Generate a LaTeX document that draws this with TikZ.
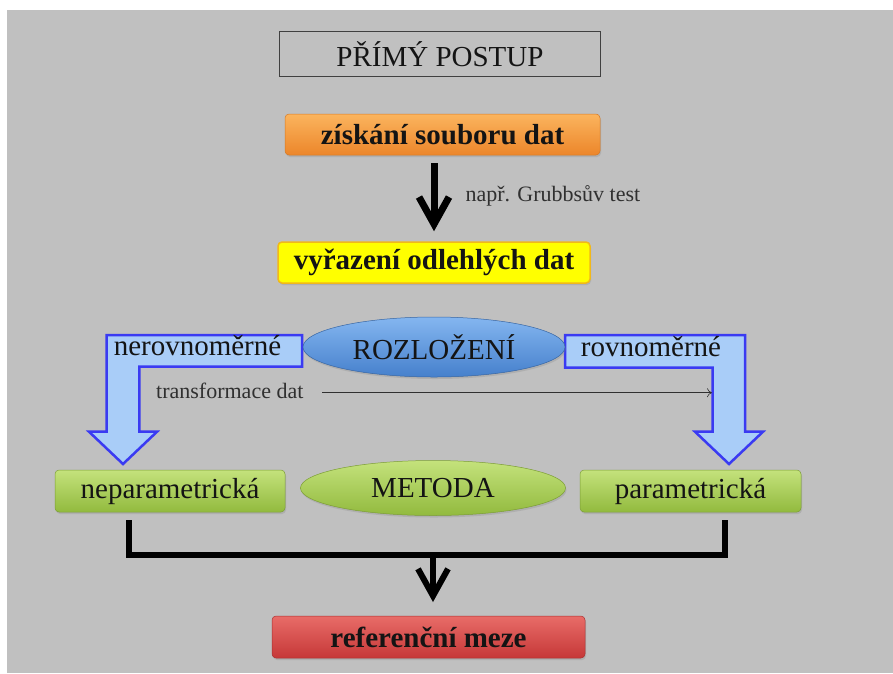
\documentclass[tikz,border=0pt]{standalone}
\usepackage{fontspec}
\setmainfont{Liberation Serif}
\usetikzlibrary{shapes.geometric,arrows.meta,shadows,calc}
\definecolor{bg}{HTML}{C0C0C0}
\definecolor{txt}{HTML}{141414}
\definecolor{smalltxt}{HTML}{303030}
\definecolor{orangeT}{HTML}{FBB45E}
\definecolor{orangeM}{HTML}{F7963A}
\definecolor{orangeB}{HTML}{EC862A}
\definecolor{yel}{HTML}{FFFF00}
\definecolor{yelB}{HTML}{F2B818}
\definecolor{blueT}{HTML}{84B6F0}
\definecolor{blueM}{HTML}{5C98DE}
\definecolor{blueB}{HTML}{4680CC}
\definecolor{greenT}{HTML}{C4E27C}
\definecolor{greenM}{HTML}{A6CE4E}
\definecolor{greenB}{HTML}{92BA3E}
\definecolor{redT}{HTML}{E86C68}
\definecolor{redM}{HTML}{D94646}
\definecolor{redB}{HTML}{C63838}
\definecolor{arrFill}{HTML}{A9CDF8}
\definecolor{arrLine}{HTML}{3A3AF2}
\begin{document}
\begin{tikzpicture}[x=1pt,y=-1pt,
  bigfont/.style={font=\fontsize{29}{34}\selectfont, text=txt},
  boldfont/.style={font=\fontsize{29}{34}\selectfont\bfseries, text=txt},
  smallfont/.style={font=\fontsize{22}{26}\selectfont, text=smalltxt},
  shad/.style={drop shadow={opacity=0.25, shadow xshift=1pt, shadow yshift=-2pt}},
  colbox/.style={rectangle, rounded corners=4pt, inner sep=0pt, shad},
  colell/.style={ellipse, inner sep=0pt, shad},
  orangefill/.style={top color=orangeT, middle color=orangeM, bottom color=orangeB, draw=orangeB!90!black, line width=0.5pt},
  bluefill/.style={top color=blueT, middle color=blueM, bottom color=blueB, draw=blueB!80!black, line width=0.5pt},
  greenfill/.style={top color=greenT, middle color=greenM, bottom color=greenB, draw=greenB!85!black, line width=0.5pt},
  redfill/.style={top color=redT, middle color=redM, bottom color=redB, draw=redB!85!black, line width=0.5pt},
  bigarrow/.style={line width=7pt, -{Straight Barb[length=27pt,width=30pt]}},
  bentarrow/.style={fill=arrFill, draw=arrLine, line width=2.5pt, line join=miter},
  thinarrow/.style={line width=0.6pt, draw=smalltxt, -{To[length=5pt,width=9pt]}},
  bracket/.style={line width=6pt, line join=miter}
]
\useasboundingbox (0,0) rectangle (893,673);
\fill[bg] (7,10) rectangle (893,673);

% title
\node[draw=black!75, line width=0.8pt, minimum width=321pt, minimum height=45pt, inner sep=0pt, bigfont] (title) at (440,54) {PŘÍMÝ POSTUP};

% top boxes
\node[colbox, orangefill, minimum width=315pt, minimum height=41pt, boldfont] (get) at (442.5,134.5) {získání souboru dat};
\node[colbox, fill=yel, draw=yelB, line width=1.5pt,
      minimum width=312pt, minimum height=41pt, boldfont] (yel) at (434,262.5) {vyřazení odlehlých dat};

\coordinate (a1s) at ($(get.south -| yel.north)+(0,8)$);
\coordinate (a1e) at ($(yel.north)+(0,-10)$);
\draw[bigarrow] (a1s) -- (a1e);
\node[smallfont, anchor=base west] (grubbs) at (462,201.5) {např. Grubbsův test};

% bent arrows
\draw[bentarrow] (106.7,335) -- (302,335) -- (302,366.7) -- (139.3,366.7) -- (139.3,431.7)
  -- (157,431.7) -- (123,464) -- (89,431.7) -- (106.7,431.7) -- cycle;
\draw[bentarrow] (565,335) -- (745,335) -- (745,431.7) -- (763,431.7) -- (729,464)
  -- (695,431.7) -- (712.7,431.7) -- (712.7,367.7) -- (565,367.7) -- cycle;
\node[bigfont, anchor=base] (nerov) at (197.5,355) {nerovnoměrné};
\node[bigfont, anchor=base] (rov) at (651,356.5) {rovnoměrné};

% ellipse ROZLOZENI
\node[colell, bluefill, minimum width=262pt, minimum height=60pt, bigfont] (rozl) at (434,347) {ROZLOŽENÍ};

% transformace
\node[smallfont, anchor=base west, inner sep=0pt] (transf) at (156,398) {transformace dat};
\coordinate (tS) at (322,392.7);
\coordinate (tE) at (712,392.7);
\draw[thinarrow] (tS) -- (tE);

% METODA row
\node[colell, greenfill, minimum width=265pt, minimum height=55pt, bigfont] (met) at (433,488) {METODA};
\node[colbox, greenfill, minimum width=230pt, minimum height=42pt, bigfont] (nep) at (170,491) {neparametrická};
\node[colbox, greenfill, minimum width=221pt, minimum height=42pt, bigfont] (par) at (690.5,491) {parametrická};

% bracket
\coordinate (bL) at (129,520);
\coordinate (bR) at (724.7,520);
\coordinate (bM) at (433,555);
\draw[bracket] (bL) -- (bL |- bM) -- (bR |- bM) -- (bR);

% result
\node[colbox, redfill, minimum width=313pt, minimum height=42pt, boldfont] (ref) at (428.5,637) {referenční meze};
\coordinate (a2e) at (433,602);
\draw[bigarrow, line width=6pt] ($(bM)+(0,-3)$) -- (a2e);
\end{tikzpicture}
\end{document}
